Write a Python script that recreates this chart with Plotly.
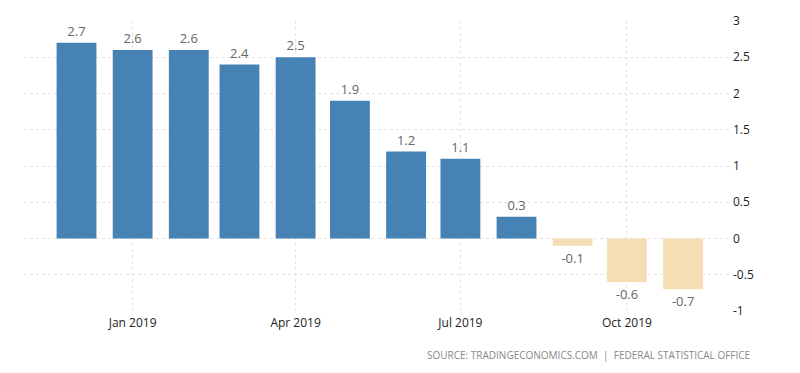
import plotly.graph_objects as go

months = ["2018-12-01", "2019-01-01", "2019-02-01", "2019-03-01", "2019-04-01", "2019-05-01",
          "2019-06-01", "2019-07-01", "2019-08-01", "2019-09-01", "2019-10-01", "2019-11-01"]
values = [2.7, 2.6, 2.6, 2.4, 2.5, 1.9, 1.2, 1.1, 0.3, -0.1, -0.6, -0.7]
y_ticks = [-1, -0.5, 0, 0.5, 1, 1.5, 2, 2.5, 3]
y_tick_labels = ["-1", "-0.5", "0", "0.5", "1", "1.5", "2", "2.5", "3"]
source_text = "SOURCE: TRADINGECONOMICS.COM  |  FEDERAL STATISTICAL OFFICE"

colors = ["#4682B4" if v >= 0 else "#F5DEB3" for v in values]
day_ms = 86400000

# page body has an 8px margin, so figure is sized to fill the remaining window
W, H = 792, 365
L, R, T, B = 16, 68, 13, 62

fig = go.Figure(go.Bar(
    x=months, y=values,
    width=[22 * day_ms] * len(values),
    marker=dict(color=colors, line=dict(width=0)),
    text=[f"{v:g}" for v in values],
    textposition="outside",
    textfont=dict(color="#666666", size=13, family="Open Sans"),
    cliponaxis=False,
))

fig.update_layout(
    width=W, height=H,
    margin=dict(l=L, r=R, t=T, b=B, autoexpand=False),
    plot_bgcolor="white", paper_bgcolor="white",
    showlegend=False,
    font=dict(family="Open Sans", color="#222222", size=12),
    xaxis=dict(
        type="date",
        range=["2018-11-02", "2019-11-28"],
        tick0="2019-01-01", dtick="M3", tickformat="%b %Y",
        showgrid=True, gridcolor="#e3e3e3", griddash="dot",
        showline=False, zeroline=False, ticks="",
        tickfont=dict(size=12, color="#222222"),
        ticklabelstandoff=3,
        automargin=False,
    ),
    yaxis=dict(
        side="right",
        range=[-1, 3],
        tickvals=y_ticks, ticktext=y_tick_labels,
        showgrid=True, gridcolor="#e3e3e3", griddash="dot",
        zeroline=False, showline=False, ticks="",
        tickfont=dict(size=12, color="#222222"),
        automargin=False,
    ),
    annotations=[dict(
        text=source_text, xref="paper", yref="paper",
        x=(744 - L) / (W - L - R), y=-(347 - (H - B)) / (H - T - B),
        xanchor="right", yanchor="middle", showarrow=False,
        font=dict(size=10, color="#888888", family="Open Sans"),
    )],
)

fig.write_html("out.html")
